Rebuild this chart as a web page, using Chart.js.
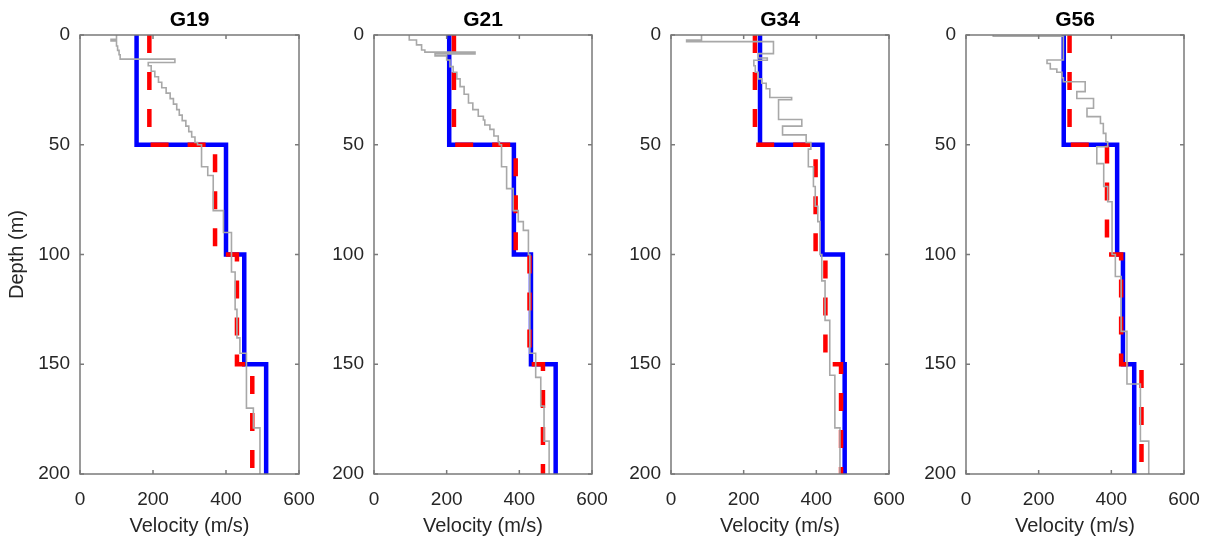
<!DOCTYPE html>
<html>
<head>
<meta charset="utf-8">
<title>Vs profiles</title>
<script src="https://cdn.jsdelivr.net/npm/chart.js@4.4.1/dist/chart.umd.min.js"></script>
<style>
    html, body { margin: 0; padding: 0; background: #fff; overflow: hidden; }
    body { width: 1210px; height: 542px; position: relative; }
    canvas { position: absolute; top: 0; }
</style>
</head>
<body>
<canvas id="G19"></canvas>
<canvas id="G21"></canvas>
<canvas id="G34"></canvas>
<canvas id="G56"></canvas>
<script>
// Layer tops (m) shared by the two layered models, and the bottom of the plots
const layerTops = [0, 50, 100, 150];
const maxDepth = 200;
const velocityTicks = [0, 200, 400, 600];
const depthTicks = [0, 50, 100, 150, 200];

// Blue solid model, velocities (m/s) per layer
const g19Blue = [155, 400, 450, 510];
const g21Blue = [207, 385, 432, 500];
const g34Blue = [245, 417, 473, 478];
const g56Blue = [269, 416, 432, 463];

// Red dashed model, velocities (m/s) per layer
const g19Red = [190, 370, 430, 472];
const g21Red = [220, 390, 428, 465];
const g34Red = [231, 398, 425, 468];
const g56Red = [285, 388, 427, 483];

// Grey measured profiles: depth of each step top (m) and velocity (m/s)
const g19GreyDepth = [0, 2, 2.7, 5, 7, 9, 11, 12.5, 14, 16.5, 19, 21.5, 24, 26.5, 29, 31.5, 34, 36.5, 39, 41.5, 44, 46.5, 49, 50, 60, 64, 80, 90, 108, 125, 138, 145, 170, 179];
const g19GreyVel = [100, 85, 100, 103, 107, 110, 260, 187, 195, 205, 215, 224, 236, 247, 256, 265, 272, 280, 290, 298, 306, 315, 322, 333, 350, 365, 393, 415, 425, 430, 438, 456, 475, 493];

const g21GreyDepth = [0, 2.3, 4.5, 6.8, 7.8, 8.6, 9.5, 11.4, 14.4, 17, 20, 23.5, 27, 31, 34, 37, 38.7, 41, 43, 46, 48.6, 50, 60, 70, 80, 85, 89, 100, 145, 156, 169, 185];
const g21GreyVel = [97, 117, 131, 140, 278, 168, 200, 209, 218, 228, 237, 248, 260, 272, 287, 301, 305, 319, 330, 342, 345, 351, 365, 383, 397, 411, 425, 429, 445, 459, 468, 482];

const g34GreyDepth = [0, 2.3, 3.0, 8.5, 10.5, 11.5, 14, 17, 20, 22, 24.5, 28.5, 29.5, 38.5, 41.5, 45.5, 49, 52, 60, 69, 78, 85, 100, 112, 130, 155, 179];
const g34GreyVel = [84, 43, 282, 240, 265, 228, 232, 240, 250, 262, 272, 332, 296, 360, 307, 372, 385, 378, 392, 397, 404, 410, 415, 424, 437, 451, 465];

const g56GreyDepth = [0, 0.6, 11.4, 13, 15.5, 17, 19.5, 21.3, 25.8, 28.9, 33.4, 37.2, 40.3, 44.8, 48.6, 50.9, 58.6, 69, 76, 100, 110, 135, 159, 185];
const g56GreyVel = [75, 268, 223, 232, 250, 264, 268, 328, 305, 351, 333, 370, 378, 385, 390, 360, 379, 390, 402, 411, 427, 443, 480, 503];

const panels = [
    { id: 'G19', blue: g19Blue, red: g19Red, greyDepth: g19GreyDepth, greyVel: g19GreyVel },
    { id: 'G21', blue: g21Blue, red: g21Red, greyDepth: g21GreyDepth, greyVel: g21GreyVel },
    { id: 'G34', blue: g34Blue, red: g34Red, greyDepth: g34GreyDepth, greyVel: g34GreyVel },
    { id: 'G56', blue: g56Blue, red: g56Red, greyDepth: g56GreyDepth, greyVel: g56GreyVel }
];

// where each plot box sits on the page
const plotLefts = [80, 374, 671, 966];
const plotWidths = [219, 218, 218, 218];
const axisWidth = 80;
const rightPad = 34; // room for the "600" label plus its tick padding

const FONT = 'Arial, "Liberation Sans", Helvetica, sans-serif';

// Turn layer tops + velocities into points; the stepped line draws the staircase
function toProfile(depths, vels) {
    const pts = depths.map((d, i) => ({ x: vels[i], y: d }));
    pts.push({ x: vels[vels.length - 1], y: maxDepth });
    return pts;
}

// MATLAB style box with inward ticks on all four sides
const boxPlugin = {
    id: 'boxPlugin',
    afterDatasetsDraw(chart) {
        const { ctx, chartArea: a, scales } = chart;
        const x = scales.x, y = scales.y;
        ctx.save();
        ctx.strokeStyle = '#7a7a7a';
        ctx.lineWidth = 1.5;
        ctx.strokeRect(a.left, a.top, a.right - a.left, a.bottom - a.top);
        ctx.beginPath();
        velocityTicks.forEach(v => {
            const px = x.getPixelForValue(v);
            ctx.moveTo(px, a.bottom); ctx.lineTo(px, a.bottom - 4);
            ctx.moveTo(px, a.top); ctx.lineTo(px, a.top + 4);
        });
        depthTicks.forEach(d => {
            const py = y.getPixelForValue(d);
            ctx.moveTo(a.left, py); ctx.lineTo(a.left + 4, py);
            ctx.moveTo(a.right, py); ctx.lineTo(a.right - 4, py);
        });
        ctx.stroke();
        ctx.restore();
    }
};

function makeChart(panel, idx) {
    const canvas = document.getElementById(panel.id);
    const w = axisWidth + plotWidths[idx] + rightPad;
    canvas.width = w;
    canvas.height = 542;
    canvas.style.left = (plotLefts[idx] - axisWidth) + 'px';

    const tickFont = { family: FONT, size: 19 };

    return new Chart(canvas.getContext('2d'), {
        type: 'scatter',
        data: {
            datasets: [
                {
                    label: 'measured',
                    data: toProfile(panel.greyDepth, panel.greyVel),
                    showLine: true,
                    stepped: 'after',
                    borderColor: '#a8a8a8',
                    borderWidth: 1.6,
                    pointRadius: 0
                },
                {
                    label: 'red model',
                    data: toProfile(layerTops, panel.red),
                    showLine: true,
                    stepped: 'after',
                    borderColor: '#ff0000',
                    borderWidth: 4.5,
                    borderDash: [18, 19],
                    pointRadius: 0
                },
                {
                    label: 'blue model',
                    data: toProfile(layerTops, panel.blue),
                    showLine: true,
                    stepped: 'after',
                    borderColor: '#0000ff',
                    borderWidth: 4.5,
                    pointRadius: 0
                }
            ]
        },
        options: {
            responsive: false,
            animation: false,
            devicePixelRatio: 1,
            layout: { padding: { left: 0, top: 0, bottom: 0, right: rightPad } },
            plugins: {
                legend: { display: false },
                tooltip: { enabled: false }
            },
            scales: {
                x: {
                    type: 'linear',
                    position: 'bottom',
                    min: 0,
                    max: 600,
                    grid: { display: false, drawTicks: false },
                    border: { display: false },
                    ticks: { stepSize: 200, padding: 14, color: '#262626', font: tickFont, maxRotation: 0 },
                    title: { display: true, text: 'Velocity (m/s)', color: '#262626', font: { family: FONT, size: 20 }, padding: { top: 0, bottom: 4 } },
                    afterFit: scale => { scale.height = 68; }
                },
                x2: {
                    type: 'linear',
                    position: 'top',
                    min: 0,
                    max: 600,
                    grid: { display: false, drawTicks: false },
                    border: { display: false },
                    ticks: { display: false },
                    title: { display: true, text: panel.id, color: '#000', font: { family: FONT, size: 21, weight: 'bold' }, padding: { top: 8, bottom: 0 } },
                    afterFit: scale => { scale.height = 35; }
                },
                y: {
                    type: 'linear',
                    position: 'left',
                    reverse: true,
                    min: 0,
                    max: maxDepth,
                    grid: { display: false, drawTicks: false },
                    border: { display: false },
                    ticks: { stepSize: 50, padding: 10, color: '#262626', font: tickFont },
                    title: { display: idx === 0, text: 'Depth (m)', color: '#262626', font: { family: FONT, size: 20 }, padding: { top: 5, bottom: 0 } },
                    afterFit: scale => { scale.width = axisWidth; }
                }
            }
        },
        plugins: [boxPlugin]
    });
}

panels.forEach((p, i) => makeChart(p, i));
</script>
</body>
</html>
